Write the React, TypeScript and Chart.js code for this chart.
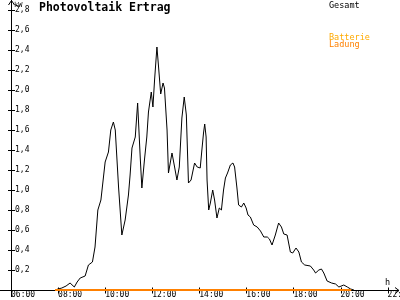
import { useEffect, useRef } from 'react';
import { Chart, registerables } from 'chart.js';

Chart.register(...registerables);

const titleText = 'Photovoltaik Ertrag';
const yUnit = 'kW';
const xUnit = 'h';
const seriesNames = ['Gesamt', 'Batterie', 'Ladung'];
const seriesColors = ['#000000', '#ffaa00', '#ff8000'];

const xMin = 6;
const xMax = 22.4;
const xStep = 2;
const yMin = 0;
const yMax = 2.88;
const yStep = 0.2;

// time of day in hours, power in kW
const gesamtHours = [
  7.87, 8.0, 8.16, 8.34, 8.51, 8.69, 8.81, 8.94, 9.15, 9.29, 9.46, 9.57, 9.69, 9.82,
  10.0, 10.14, 10.24, 10.35, 10.43, 10.57, 10.71, 10.85, 10.99, 11.06, 11.14, 11.28,
  11.38, 11.49, 11.56, 11.67, 11.77, 11.84, 11.96, 12.03, 12.1, 12.2, 12.27, 12.36,
  12.46, 12.52, 12.63, 12.69, 12.84, 12.95, 13.05, 13.15, 13.26, 13.36, 13.45, 13.54,
  13.65, 13.8, 13.91, 14.04, 14.11, 14.18, 14.23, 14.29, 14.33, 14.4, 14.47, 14.57,
  14.65, 14.75, 14.85, 14.94, 15.03, 15.11, 15.2, 15.32, 15.43, 15.5, 15.6, 15.67,
  15.79, 15.89, 15.99, 16.07, 16.17, 16.31, 16.46, 16.6, 16.74, 16.89, 16.98, 17.09,
  17.23, 17.37, 17.49, 17.59, 17.73, 17.87, 17.97, 18.11, 18.23, 18.34, 18.48, 18.72,
  18.86, 18.94, 19.08, 19.19, 19.29, 19.43, 19.62, 19.79, 19.93, 20.14, 20.29, 20.43,
  20.57,
];
const gesamtKw = [
  0.0, 0.01, 0.02, 0.04, 0.07, 0.03, 0.08, 0.12, 0.14, 0.25, 0.28, 0.43, 0.8, 0.9,
  1.28, 1.38, 1.6, 1.68, 1.6, 1.03, 0.55, 0.7, 0.95, 1.15, 1.42, 1.53,
  1.87, 1.33, 1.02, 1.3, 1.53, 1.78, 1.98, 1.83, 2.1, 2.43, 2.23, 1.96,
  2.07, 2.02, 1.6, 1.17, 1.37, 1.23, 1.1, 1.23, 1.72, 1.93, 1.75, 1.07,
  1.1, 1.27, 1.23, 1.22, 1.4, 1.57, 1.66, 1.53, 1.1, 0.8, 0.87, 1.0,
  0.9, 0.72, 0.82, 0.8, 1.0, 1.12, 1.17, 1.25, 1.27, 1.23, 1.02, 0.85,
  0.83, 0.87, 0.82, 0.75, 0.73, 0.65, 0.63, 0.59, 0.53, 0.53, 0.51, 0.45,
  0.55, 0.67, 0.63, 0.56, 0.55, 0.38, 0.37, 0.42, 0.38, 0.28, 0.25, 0.24,
  0.2, 0.17, 0.2, 0.21, 0.17, 0.09, 0.07, 0.06, 0.03, 0.05, 0.03, 0.01,
  0.0,
];
const batterieHours = [7.87, 20.45];
const batterieKw = [0, 0];
const ladungHours = [7.87, 20.45];
const ladungKw = [0, 0];

const fmtHour = (v: number) => String(Math.round(v)).padStart(2, '0') + ':00';
const fmtKw = (v: number) => (Math.abs(v) < 1e-6 ? '' : v.toFixed(1).replace('.', ','));

const toPoints = (xs: number[], ys: number[]) => xs.map((x, i) => ({ x, y: ys[i] }));

const MONO = '"DejaVu Sans Mono", monospace';

const overlay = {
  id: 'overlay',
  beforeDatasetsDraw(chart: any) {
    const { ctx, chartArea, scales } = chart;
    const ax = chartArea.left + 0.5;
    const ay = chartArea.bottom + 0.5;
    ctx.save();
    ctx.strokeStyle = '#000';
    ctx.lineWidth = 1;
    ctx.beginPath();
    // y axis with arrow
    ctx.moveTo(ax, 0);
    ctx.lineTo(ax, 297);
    ctx.moveTo(ax - 3, 5);
    ctx.lineTo(ax, 0.5);
    ctx.lineTo(ax + 3, 5);
    // x axis with arrow
    ctx.moveTo(0, ay);
    ctx.lineTo(399, ay);
    ctx.moveTo(395, ay - 3);
    ctx.lineTo(399, ay);
    ctx.lineTo(395, ay + 3);
    // y ticks
    scales.y.ticks.forEach((t: any) => {
      if (t.value <= 0) return;
      const py = Math.round(scales.y.getPixelForValue(t.value)) + 0.5;
      ctx.moveTo(ax - 3.5, py);
      ctx.lineTo(ax + 3.5, py);
    });
    scales.x.ticks.forEach((t: any) => {
      const px = Math.round(scales.x.getPixelForValue(t.value)) + 0.5;
      ctx.moveTo(px, ay - 3);
      ctx.lineTo(px, ay + 3);
    });
    ctx.stroke();
    ctx.restore();
  },
  afterDraw(chart: any) {
    const { ctx } = chart;
    ctx.save();
    ctx.textBaseline = 'alphabetic';
    ctx.textAlign = 'left';
    ctx.fillStyle = '#000';
    ctx.font = `bold 11.5px ${MONO}`;
    ctx.fillText(titleText, 39, 10.5);
    ctx.font = `7px ${MONO}`;
    ctx.fillText(yUnit, 14, 6.5);
    ctx.font = `8.5px ${MONO}`;
    ctx.fillText(xUnit, 385, 284.5);
    ctx.fillStyle = seriesColors[0];
    ctx.fillText(seriesNames[0], 329, 7.5);
    ctx.fillStyle = seriesColors[1];
    ctx.fillText(seriesNames[1], 329, 39.5);
    ctx.fillStyle = seriesColors[2];
    ctx.fillText(seriesNames[2], 329, 46.5);
    ctx.restore();
  },
};

export default function App() {
  const ref = useRef<HTMLCanvasElement | null>(null);
  useEffect(() => {
    if (!ref.current) return;
    const chart = new Chart(ref.current, {
      type: 'line',
      data: {
        datasets: [
          {
            label: seriesNames[2],
            data: toPoints(ladungHours, ladungKw),
            borderColor: seriesColors[2],
            borderWidth: 2,
            pointRadius: 0,
            tension: 0,
            clip: false as any,
          },
          {
            label: seriesNames[1],
            data: toPoints(batterieHours, batterieKw),
            borderColor: seriesColors[1],
            borderWidth: 2,
            pointRadius: 0,
            tension: 0,
            clip: false as any,
          },
          {
            label: seriesNames[0],
            data: toPoints(gesamtHours, gesamtKw),
            borderColor: seriesColors[0],
            borderWidth: 1,
            pointRadius: 0,
            tension: 0,
            clip: false as any,
          },
        ],
      },
      options: {
        responsive: false,
        animation: false,
        devicePixelRatio: 1,
        layout: { padding: { top: 2, right: 3, left: 0, bottom: 0 } },
        plugins: { legend: { display: false }, tooltip: { enabled: false }, title: { display: false } },
        scales: {
          x: {
            type: 'linear',
            min: xMin,
            max: xMax,
            grid: { display: false, drawTicks: false },
            border: { display: false },
            ticks: {
              stepSize: xStep,
              includeBounds: false,
              autoSkip: false,
              maxRotation: 0,
              align: 'start',
              padding: 0,
              color: '#000',
              font: { family: MONO, size: 8 },
              callback: (v: any) => fmtHour(Number(v)),
            },
            afterFit: (s: any) => {
              s.height = 10;
              s.paddingLeft = 0;
              s.paddingRight = 0;
            },
          },
          y: {
            type: 'linear',
            min: yMin,
            max: yMax,
            grid: { display: false, drawTicks: false },
            border: { display: false },
            ticks: {
              stepSize: yStep,
              includeBounds: false,
              mirror: true,
              padding: 4,
              color: '#000',
              font: { family: MONO, size: 8 },
              callback: (v: any) => fmtKw(Number(v)),
            },
            afterFit: (s: any) => {
              s.width = 11;
              s.paddingTop = 0;
              s.paddingBottom = 0;
            },
          },
        },
      },
      plugins: [overlay],
    });
    return () => chart.destroy();
  }, []);
  return (
    <div style={{ position: 'fixed', left: 0, top: 0, width: 400, height: 300, background: '#fff' }}>
      <canvas ref={ref} width={400} height={300} style={{ width: 400, height: 300, display: 'block' }} />
    </div>
  );
}
